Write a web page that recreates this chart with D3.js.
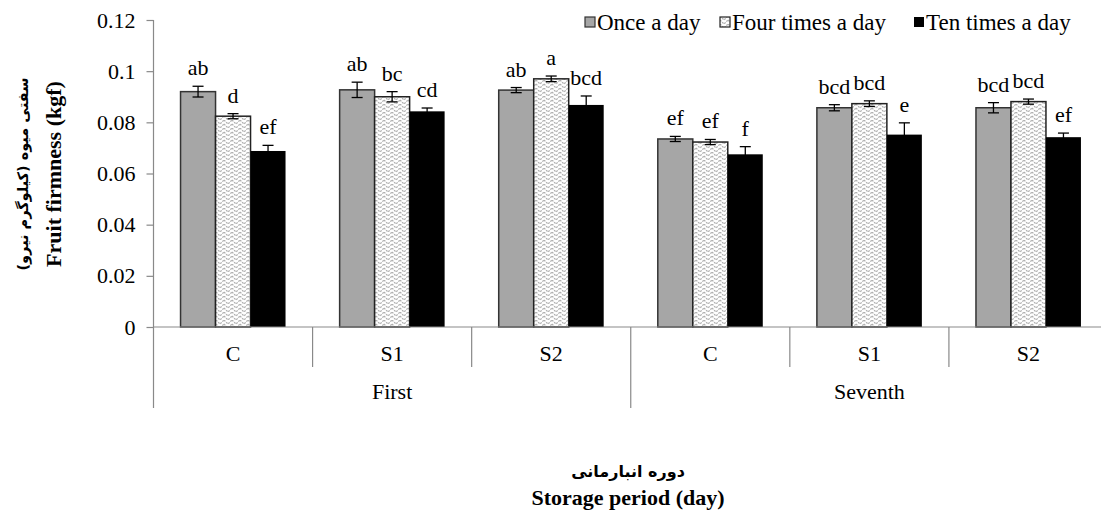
<!DOCTYPE html>
<html><head><meta charset="utf-8">
<script src="https://cdn.jsdelivr.net/npm/d3@7/dist/d3.min.js"></script>
<style>
body{margin:0;background:#fff;}
svg text{font-family:"Liberation Serif","Times New Roman",serif;fill:#000;}
</style></head>
<body><svg id="c" width="1101" height="518"></svg>
<script>
const categories = ["C","S1","S2","C","S1","S2"];
const periods = ["First","Seventh"];
const seriesNames = ["Once a day","Four times a day","Ten times a day"];
const onceVals = [0.0920,0.0927,0.0926,0.0735,0.0857,0.0857];
const fourVals = [0.0824,0.0900,0.0970,0.0723,0.0873,0.0881];
const tenVals  = [0.0688,0.0843,0.0868,0.0675,0.0752,0.0742];
const onceErr = [0.0021,0.0030,0.0010,0.0010,0.0012,0.0020];
const fourErr = [0.0010,0.0020,0.0011,0.0010,0.0011,0.0010];
const tenErr  = [0.0022,0.0013,0.0035,0.0030,0.0046,0.0016];
const onceLet = ["ab","ab","ab","ef","bcd","bcd"];
const fourLet = ["d","bc","a","ef","bcd","bcd"];
const tenLet  = ["ef","cd","bcd","f","e","ef"];
const yTicks = [0,0.02,0.04,0.06,0.08,0.1,0.12];
const yTickLabels = ["0","0.02","0.04","0.06","0.08","0.1","0.12"];

const values = [onceVals,fourVals,tenVals];
const errs = [onceErr,fourErr,tenErr];
const lets = [onceLet,fourLet,tenLet];
const FS = "22px";

const svg = d3.select("#c");
const defs = svg.append("defs");
const pat = defs.append("pattern").attr("id","zz").attr("patternUnits","userSpaceOnUse")
  .attr("width",8).attr("height",8);
pat.append("rect").attr("width",8).attr("height",8).attr("fill","#fff");
pat.append("path").attr("d","M0,0 L4,4 L8,0 M0,4 L4,8 L8,4").attr("stroke","#b0b0b0")
  .attr("stroke-width",1.3).attr("fill","none").attr("stroke-dasharray","2,1");

const fills = ["#a6a6a6","url(#zz)","#000"];
const strokes = ["#333","#222","#000"];

const idx = d3.range(categories.length);
const x0 = d3.scaleBand().domain(idx).range([153.5,1108]).paddingInner(0).paddingOuter(0);
const x1 = d3.scaleBand().domain(d3.range(3)).range([0,x0.bandwidth()]).paddingInner(0).paddingOuter(0.773);
const y = d3.scaleLinear().domain([0,0.12]).range([327,20]);

// y axis
const yAxis = d3.axisLeft(y).tickValues(yTicks).tickFormat((d,i)=>yTickLabels[i]).tickSize(7).tickPadding(11);
const ga = svg.append("g").attr("transform","translate(153.5,0)").call(yAxis);
ga.attr("font-family",null).attr("font-size",null);
ga.selectAll("path,line").attr("stroke","#898989").attr("stroke-width",1.2);
ga.select(".domain").attr("d","M0,"+y(0.12)+"V"+y(0)).attr("stroke","#898989");
ga.selectAll("text").style("font-size",FS).style("font-family","'Liberation Serif'");

// bars
const bars = svg.append("g");
for(let s=0;s<3;s++){
  bars.selectAll(".b"+s).data(idx).enter().append("rect")
    .attr("x",i=>x0(i)+x1(s)).attr("width",x1.bandwidth())
    .attr("y",i=>y(values[s][i])).attr("height",i=>y(0)-y(values[s][i]))
    .attr("fill",fills[s]).attr("stroke",strokes[s]).attr("stroke-width",s===2?0:1.5);
}
// x axis line
svg.append("line").attr("x1",153.5).attr("x2",1108).attr("y1",y(0)).attr("y2",y(0))
  .attr("stroke","#898989").attr("stroke-width",1.2);

// error bars and letters
const eg = svg.append("g");
for(let s=0;s<3;s++){
  idx.forEach(i=>{
    const cx = x0(i)+x1(s)+x1.bandwidth()/2;
    const v = values[s][i], e = errs[s][i];
    eg.append("line").attr("x1",cx).attr("x2",cx).attr("y1",y(v+e)).attr("y2",y(v-e)).attr("stroke","#000").attr("stroke-width",1.3);
    [v+e,v-e].forEach(t=>eg.append("line").attr("x1",cx-5.5).attr("x2",cx+5.5).attr("y1",y(t)).attr("y2",y(t)).attr("stroke","#000").attr("stroke-width",1.3));
    eg.append("text").attr("x",cx).attr("y",y(v+e)-11).attr("text-anchor","middle")
      .style("font-size",FS).text(lets[s][i]);
  });
}

// category separators and labels
const xg = svg.append("g");
d3.range(categories.length+1).forEach(k=>{
  const xx = k<categories.length ? x0(k) : x0(categories.length-1)+x0.bandwidth();
  const long = (k%3===0);
  xg.append("line").attr("x1",xx).attr("x2",xx).attr("y1",y(0)).attr("y2",long?408:367)
    .attr("stroke","#898989").attr("stroke-width",1.2);
});
idx.forEach(i=>{
  xg.append("text").attr("x",x0(i)+x0.bandwidth()/2).attr("y",361).attr("text-anchor","middle")
    .style("font-size",FS).text(categories[i]);
});
periods.forEach((p,j)=>{
  const xa = x0(j*3), xb = x0(j*3+2)+x0.bandwidth();
  xg.append("text").attr("x",(xa+xb)/2).attr("y",399).attr("text-anchor","middle")
    .style("font-size",FS).text(p);
});

// legend
const legX = [585,720,914];
const lg = svg.append("g");
seriesNames.forEach((n,s)=>{
  lg.append("rect").attr("x",legX[s]).attr("y",17).attr("width",10).attr("height",10)
    .attr("fill",fills[s]).attr("stroke",strokes[s]).attr("stroke-width",s===2?0:1.2);
  lg.append("text").attr("x",legX[s]+12).attr("y",30).style("font-size","23px").text(n);
});

// axis titles
svg.append("text").attr("transform","translate(28,174) rotate(-90)").attr("text-anchor","middle")
  .style("font-size","14.5px").style("font-weight","bold")
  .style("font-family","'DejaVu Sans'").text("سفتی میوه (کیلوگرم نیرو)");
svg.append("text").attr("transform","translate(61,174) rotate(-90)").attr("text-anchor","middle")
  .style("font-size",FS).style("font-weight","bold").text("Fruit firmness (kgf)");
svg.append("text").attr("x",628).attr("y",477).attr("text-anchor","middle")
  .style("font-size","16px").style("font-weight","bold").style("font-family","'DejaVu Sans'").text("دوره انبارمانی");
svg.append("text").attr("x",628).attr("y",505).attr("text-anchor","middle")
  .style("font-size",FS).style("font-weight","bold").text("Storage period (day)");
</script></body></html>
